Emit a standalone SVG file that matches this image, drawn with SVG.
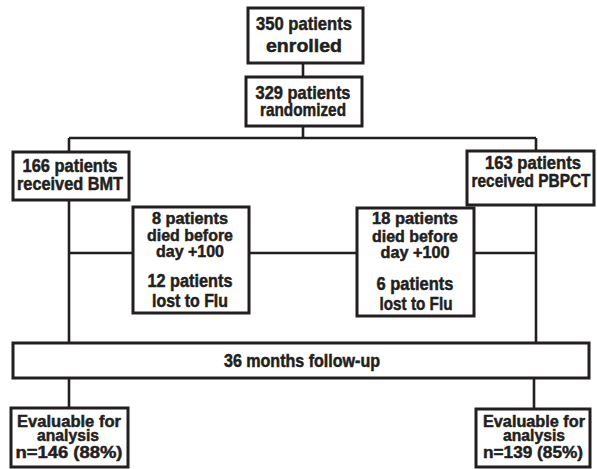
<svg xmlns="http://www.w3.org/2000/svg" width="597" height="469" viewBox="0 0 597 469">
<style>
.box{fill:#fff;stroke:#231f20;stroke-width:3}
.ln{fill:none;stroke:#231f20;stroke-width:2.6}
text{font-family:"Liberation Sans","DejaVu Sans",sans-serif;font-weight:bold;fill:#231f20;stroke:#231f20;stroke-width:0.5;text-anchor:middle}
.l{font-size:19px}
.m{font-size:18px}
.s{font-size:17px}
</style>
<rect width="597" height="469" fill="#fff"/>
<g id="connectors">
<path class="ln" d="M303,63V77M303,126V138M69,138H536M69,138V152M536,138V151M69,200V343M536,205V343M69,253H133M249,253H357M474,253H536M69,378V408M534,378V409"/>
</g>
<g id="enrolled">
<rect class="box" x="248" y="8" width="115" height="55"/>
<text class="l" x="304" y="30" textLength="96" lengthAdjust="spacingAndGlyphs">350 patients</text>
<text class="l" x="304" y="52" textLength="76" lengthAdjust="spacingAndGlyphs">enrolled</text>
</g>
<g id="randomized">
<rect class="box" x="246" y="77" width="116" height="49"/>
<text class="l" x="303" y="99" textLength="95" lengthAdjust="spacingAndGlyphs">329 patients</text>
<text class="l" x="303" y="116" textLength="86" lengthAdjust="spacingAndGlyphs">randomized</text>
</g>
<g id="bmt">
<rect class="box" x="13" y="152" width="116" height="48"/>
<text class="m" x="70" y="172" textLength="95" lengthAdjust="spacingAndGlyphs">166 patients</text>
<text class="m" x="70" y="190" textLength="106" lengthAdjust="spacingAndGlyphs">received BMT</text>
</g>
<g id="pbpct">
<rect class="box" x="467" y="151" width="127" height="54"/>
<text class="m" x="533" y="169" textLength="96" lengthAdjust="spacingAndGlyphs">163 patients</text>
<text class="m" x="531" y="187" textLength="119" lengthAdjust="spacingAndGlyphs">received PBPCT</text>
</g>
<g id="bmt-losses">
<rect class="box" x="133" y="207" width="116" height="106"/>
<text class="s" x="190" y="224" textLength="76" lengthAdjust="spacingAndGlyphs">8 patients</text>
<text class="s" x="190" y="241" textLength="86" lengthAdjust="spacingAndGlyphs">died before</text>
<text class="s" x="190" y="257" textLength="68" lengthAdjust="spacingAndGlyphs">day +100</text>
<text class="m" x="190" y="287" textLength="85" lengthAdjust="spacingAndGlyphs">12 patients</text>
<text class="m" x="190" y="307" textLength="76" lengthAdjust="spacingAndGlyphs">lost to Flu</text>
</g>
<g id="pbpct-losses">
<rect class="box" x="357" y="208" width="117" height="108"/>
<text class="s" x="415" y="224" textLength="86" lengthAdjust="spacingAndGlyphs">18 patients</text>
<text class="s" x="415" y="242" textLength="86" lengthAdjust="spacingAndGlyphs">died before</text>
<text class="s" x="415" y="258" textLength="69" lengthAdjust="spacingAndGlyphs">day +100</text>
<text class="m" x="415" y="290" textLength="77" lengthAdjust="spacingAndGlyphs">6 patients</text>
<text class="m" x="416" y="310" textLength="73" lengthAdjust="spacingAndGlyphs">lost to Flu</text>
</g>
<g id="followup">
<rect class="box" x="13" y="343" width="576" height="35"/>
<text class="m" x="302" y="367" textLength="156" lengthAdjust="spacingAndGlyphs">36 months follow-up</text>
</g>
<g id="eval-bmt">
<rect class="box" x="11" y="408" width="117" height="59"/>
<text class="s" x="69" y="427" textLength="104" lengthAdjust="spacingAndGlyphs">Evaluable for</text>
<text class="s" x="68" y="441" textLength="62" lengthAdjust="spacingAndGlyphs">analysis</text>
<text class="s" x="69" y="458" textLength="107" lengthAdjust="spacingAndGlyphs">n=146 (88%)</text>
</g>
<g id="eval-pbpct">
<rect class="box" x="476" y="409" width="114" height="58"/>
<text class="s" x="534" y="427" textLength="102" lengthAdjust="spacingAndGlyphs">Evaluable for</text>
<text class="s" x="534" y="441" textLength="62" lengthAdjust="spacingAndGlyphs">analysis</text>
<text class="s" x="533" y="458" textLength="100" lengthAdjust="spacingAndGlyphs">n=139 (85%)</text>
</g>
</svg>
